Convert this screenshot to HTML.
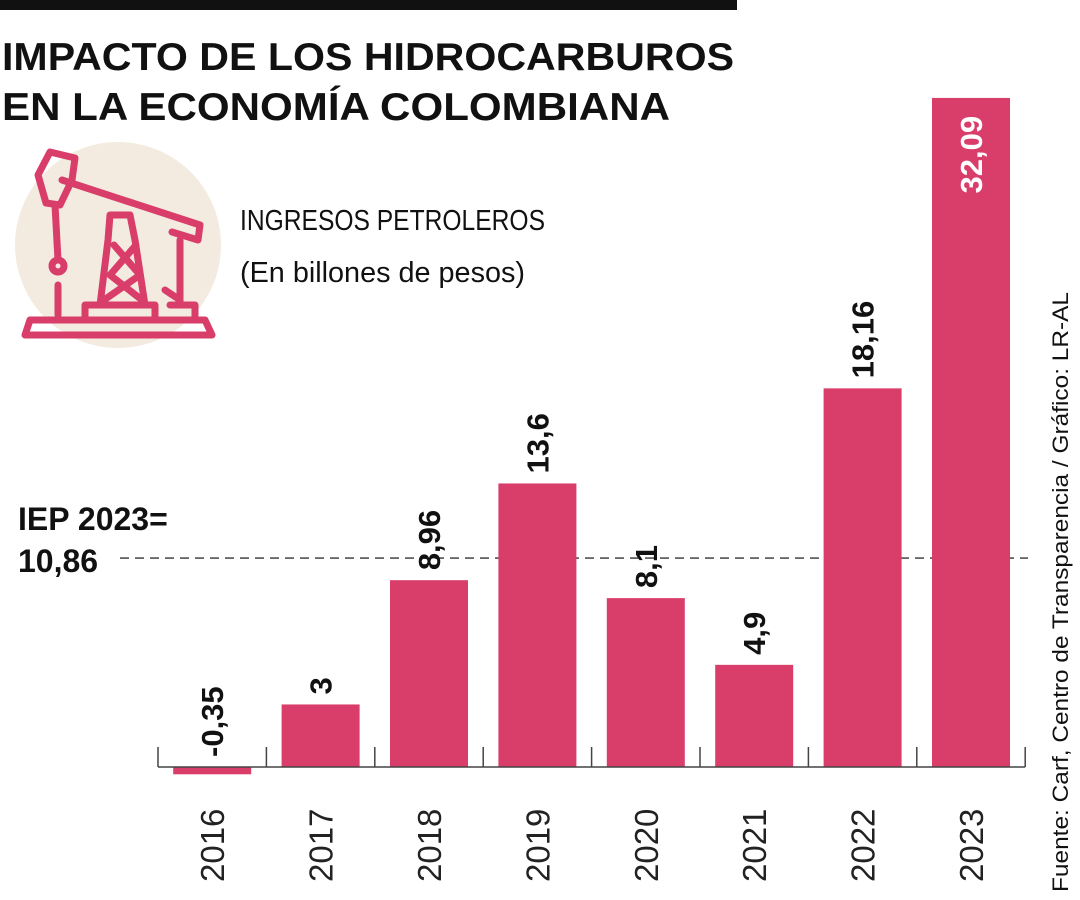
<!DOCTYPE html>
<html><head><meta charset="utf-8"><style>
body{margin:0;background:#fff;width:1080px;height:900px;overflow:hidden;font-family:"Liberation Sans",sans-serif}
svg{position:absolute;left:0;top:0}
</style></head><body>
<svg id="chart" width="1080" height="900">
<rect x="0" y="0" width="737" height="10" fill="#111"/>
<text x="2" y="70" font-size="39" font-weight="bold" fill="#111" textLength="732" lengthAdjust="spacingAndGlyphs">IMPACTO DE LOS HIDROCARBUROS</text>
<text x="2" y="120" font-size="39" font-weight="bold" fill="#111" textLength="668" lengthAdjust="spacingAndGlyphs">EN LA ECONOMÍA COLOMBIANA</text>
<g fill="none" stroke="#d93d6a" stroke-width="7" stroke-linecap="round" stroke-linejoin="round">
<circle cx="118" cy="245" r="103" fill="#f3ebdf" stroke="none"/>
<path d="M38 175 L50 152 L75 158 L72 180 L60 205 L46 203 L38 175Z"/>
<path d="M62 180 L200 225 L198 240 L172 232"/>
<path d="M55 205 L58 260"/><circle cx="58" cy="266" r="6"/>
<path d="M58 285 L58 315"/>
<path d="M110 215 L130 215 L135 240 L145 305 L100 305 L108 240Z M114 245 L140 275 M136 245 L110 275 M110 275 L142 300 M140 275 L104 300"/>
<path d="M85 320 L85 305 L155 305 L155 320"/>
<path d="M180 240 L180 305 M165 290 L180 300 M170 305 L195 305 L195 320"/>
<path d="M30 320 L205 320 L212 335 L25 335Z"/>
</g>
<text x="240" y="230" font-size="29" fill="#111" textLength="305" lengthAdjust="spacingAndGlyphs">INGRESOS PETROLEROS</text>
<text x="240" y="282" font-size="29" fill="#111" textLength="285" lengthAdjust="spacingAndGlyphs">(En billones de pesos)</text>
<text x="18" y="530" font-size="32" font-weight="bold" fill="#111">IEP 2023=</text>
<text x="18" y="572" font-size="32" font-weight="bold" fill="#111">10,86</text>
<text transform="translate(1068,892) rotate(-90)" font-size="22" fill="#111" textLength="600" lengthAdjust="spacingAndGlyphs">Fuente: Carf, Centro de Transparencia / Gráfico: LR-AL</text>
</svg>
<script>
const categories=["2016","2017","2018","2019","2020","2021","2022","2023"];
const values=[-0.35,3,8.96,13.6,8.1,4.9,18.16,32.09];
const valueLabels=["-0,35","3","8,96","13,6","8,1","4,9","18,16","32,09"];
const refValue=10.02;
const NS="http://www.w3.org/2000/svg";
const svg=document.getElementById("chart");
const baseY=767,unit=20.85,x0=158,step=108.4,bw=78;
function y(v){return baseY-v*unit;}
function xc(i){return x0+step*i+step/2;}
function mk(t,a){const e=document.createElementNS(NS,t);for(const k in a)e.setAttribute(k,a[k]);svg.appendChild(e);return e;}
const ref=mk("line",{x1:120,x2:1028,y1:y(refValue),y2:y(refValue),stroke:"#333","stroke-width":1.3,"stroke-dasharray":"9 6"});


categories.forEach((c,i)=>{
 const v=values[i];
 const b=mk("rect",{x:xc(i)-bw/2,y:Math.min(y(v),baseY),width:bw,height:Math.abs(y(v)-baseY),fill:"#d93d6a"});
 
 
 const inside=v>25;
 const ly=inside?y(v)+18:Math.min(y(v),baseY)-10;
 const t=mk("text",{transform:`translate(${xc(i)+11},${ly}) rotate(-90)`,"font-size":31,"font-weight":"bold",fill:inside?"#fff":"#111","text-anchor":inside?"end":"start"});
 t.textContent=valueLabels[i];
 
 
 const yl=mk("text",{transform:`translate(${xc(i)+12},882) rotate(-90)`,"font-size":33,fill:"#222","font-weight":"300"});
 yl.textContent=c;
 
 
});
const ax=mk("line",{x1:x0,x2:x0+step*8,y1:baseY,y2:baseY,stroke:"#444","stroke-width":1.5});


for(let i=0;i<=categories.length;i++){
 const tk=mk("line",{x1:x0+step*i,x2:x0+step*i,y1:baseY-20,y2:baseY,stroke:"#444","stroke-width":1.5});
 
 
}
</script>
</body></html>
